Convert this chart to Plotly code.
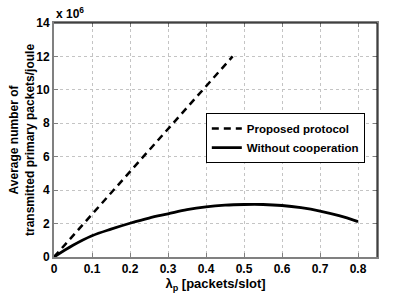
import plotly.graph_objects as go

# lambda_p values and series (units of 1e6 packets/joule)
x_prop = [0, 0.05, 0.10, 0.15, 0.20, 0.25, 0.30, 0.35, 0.40, 0.45, 0.47]
y_prop = [0, 1.28, 2.56, 3.84, 5.12, 6.40, 7.67, 8.95, 10.22, 11.48, 12.0]

x_noc = [0, 0.05, 0.10, 0.15, 0.20, 0.25, 0.30, 0.35, 0.40, 0.45, 0.50, 0.55, 0.60, 0.65, 0.70, 0.75, 0.80]
y_noc = [0, 0.70, 1.27, 1.67, 2.02, 2.33, 2.58, 2.83, 3.00, 3.10, 3.14, 3.14, 3.08, 2.95, 2.75, 2.47, 2.12]

x_ticks = [0, 0.1, 0.2, 0.3, 0.4, 0.5, 0.6, 0.7, 0.8]
x_ticklabels = ["0", "0.1", "0.2", "0.3", "0.4", "0.5", "0.6", "0.7", "0.8"]
y_ticks = [0, 2, 4, 6, 8, 10, 12, 14]
y_ticklabels = ["0", "2", "4", "6", "8", "10", "12", "14"]

FONT = "Liberation Sans, Arial, Helvetica, sans-serif"

fig = go.Figure()
fig.add_trace(go.Scatter(x=x_prop, y=y_prop, mode="lines", name="Proposed protocol",
                         line=dict(color="black", width=2.5, dash="7px,5px")))
fig.add_trace(go.Scatter(x=x_noc, y=y_noc, mode="lines", name="Without cooperation",
                         line=dict(color="black", width=2.8), line_shape="spline"))

axis_common = dict(
    showgrid=True, gridcolor="#c4c4c4", griddash="dot", gridwidth=1,
    showline=True, linecolor="#808080", linewidth=2,
    ticks="inside", ticklen=4, tickcolor="#808080", mirror="allticks",
    tickfont=dict(family=FONT, size=12, color="black", weight="bold"),
    zeroline=False, automargin=False,
)

fig.update_xaxes(range=[0, 0.85], tickvals=x_ticks, ticktext=x_ticklabels,
                 title=dict(text="λ<sub>p</sub> [packets/slot]", standoff=2,
                            font=dict(family=FONT, size=13, color="black", weight="bold")),
                 **axis_common)
fig.update_yaxes(range=[0, 14], tickvals=y_ticks, ticktext=y_ticklabels, **axis_common)

# y-axis title placed as rotated annotation
fig.add_annotation(text="Average number of<br>transmitted primary packets/joule",
                   xref="paper", yref="paper", x=0, y=0.5, xanchor="center", yanchor="middle",
                   xshift=-32, textangle=-90, showarrow=False,
                   font=dict(family=FONT, size=12, color="black", weight="bold"))

# black top/right border like MATLAB box
fig.add_shape(type="line", xref="paper", yref="paper", x0=0, x1=1, y0=1, y1=1,
              line=dict(color="black", width=1))
fig.add_shape(type="line", xref="paper", yref="paper", x0=1, x1=1, y0=0, y1=1,
              line=dict(color="black", width=1))

fig.add_annotation(text="x 10<sup>6</sup>", xref="paper", yref="paper", x=0, y=1,
                   xanchor="left", yanchor="bottom", yshift=0, showarrow=False,
                   font=dict(family=FONT, size=12, color="black", weight="bold"))

fig.update_layout(
    width=415, height=296,
    margin=dict(l=54, r=38, t=23, b=39, autoexpand=False),
    paper_bgcolor="white", plot_bgcolor="white",
    showlegend=True,
    legend=dict(x=0.47, y=0.615, xanchor="left", yanchor="top",
                bgcolor="white", bordercolor="black", borderwidth=1,
                font=dict(family=FONT, size=11.5, color="black", weight="bold"),
                tracegroupgap=0, itemwidth=30),
)

fig.write_html("out.html", config={"displayModeBar": False},
               post_script="document.body.style.margin='0';")
